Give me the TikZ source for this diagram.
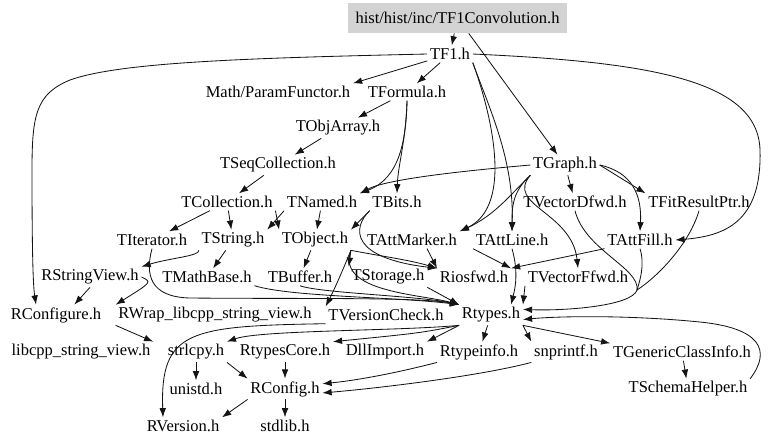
\documentclass[tikz,border=0pt]{standalone}
\usepackage{fontspec}
\setmainfont{Liberation Serif}
\usetikzlibrary{arrows.meta}
\definecolor{rootfill}{RGB}{211, 211, 211}
\definecolor{edgecol}{RGB}{20, 20, 20}

\begin{document}
\begin{tikzpicture}[
  x=0.6pt, y=-0.6pt,
  hdr/.style={inner sep=1.5pt, font=\fontsize{9.9}{11}\selectfont},
  root/.style={hdr, fill=rootfill, minimum width=131.4pt, minimum height=18pt},
  arrow/.style={-{Latex[length=5.5pt,width=4pt]}, line width=0.5pt, edgecol},
  plain/.style={line width=0.5pt, edgecol}
]
  \useasboundingbox (0,0) rectangle (768,445);

  % Nodes
  \node[root] (conv) at (457.5,18) {hist/hist/inc/TF1Convolution.h};
  \node[hdr] (tf1) at (450,54) {TF1.h};
  \node[hdr] (param) at (278,92) {Math/ParamFunctor.h};
  \node[hdr] (tformula) at (407,92) {TFormula.h};
  \node[hdr] (tobjarray) at (338,128) {TObjArray.h};
  \node[hdr] (tseqcoll) at (278,165) {TSeqCollection.h};
  \node[hdr] (tgraph) at (565,165) {TGraph.h};
  \node[hdr] (tcollection) at (227,202) {TCollection.h};
  \node[hdr] (tnamed) at (322,202) {TNamed.h};
  \node[hdr] (tbits) at (397,202) {TBits.h};
  \node[hdr] (tvecdfwd) at (575,202) {TVectorDfwd.h};
  \node[hdr] (tfitres) at (699,202) {TFitResultPtr.h};
  \node[hdr] (titerator) at (152,240) {TIterator.h};
  \node[hdr] (tstring) at (233,240) {TString.h};
  \node[hdr] (tobject) at (315,240) {TObject.h};
  \node[hdr] (tattmarker) at (412,240) {TAttMarker.h};
  \node[hdr] (tattline) at (512,240) {TAttLine.h};
  \node[hdr] (tattfill) at (640,240) {TAttFill.h};
  \node[hdr] (rstringview) at (90,277) {RStringView.h};
  \node[hdr] (tmathbase) at (207,277) {TMathBase.h};
  \node[hdr] (tbuffer) at (300,277) {TBuffer.h};
  \node[hdr] (tstorage) at (388,277) {TStorage.h};
  \node[hdr] (riosfwd) at (474,277) {Riosfwd.h};
  \node[hdr] (tvecffwd) at (578,277) {TVectorFfwd.h};
  \node[hdr] (rconfigure) at (56,315) {RConfigure.h};
  \node[hdr] (rwrap) at (215,315) {RWrap\_libcpp\_string\_view.h};
  \node[hdr] (tversion) at (386,315) {TVersionCheck.h};
  \node[hdr] (rtypes) at (491,315) {Rtypes.h};
  \node[hdr] (libcpp) at (81,352) {libcpp\_string\_view.h};
  \node[hdr] (strlcpy) at (196,352) {strlcpy.h};
  \node[hdr] (rtypescore) at (285,352) {RtypesCore.h};
  \node[hdr] (dllimport) at (385,352) {DllImport.h};
  \node[hdr] (rtypeinfo) at (479,352) {Rtypeinfo.h};
  \node[hdr] (snprintf) at (566,352) {snprintf.h};
  \node[hdr] (tgenclass) at (682,352) {TGenericClassInfo.h};
  \node[hdr] (unistd) at (196,389) {unistd.h};
  \node[hdr] (rconfig) at (285,389) {RConfig.h};
  \node[hdr] (tschema) at (688,389) {TSchemaHelper.h};
  \node[hdr] (rversion) at (183,426) {RVersion.h};
  \node[hdr] (stdlib) at (285,426) {stdlib.h};
  \coordinate (merge) at (637,290);

  % Paths
  \draw[arrow] (conv) -- (tf1);
  \draw[arrow] (conv) -- (tgraph);
  \draw[arrow] (tf1.west) .. controls (250,58) and (120,62) .. (70,80) .. controls (36,94) and (32,115) .. (32,170) .. controls (32,250) and (33,285) .. ([xshift=-12pt]rconfigure.north);
  \draw[arrow] (tf1) -- (param.north east);
  \draw[arrow] (tf1) -- (tformula);
  \draw[arrow] (tf1.south east) .. controls (490,110) and (514,160) .. (tattline.north);
  \draw[arrow] (tf1.south east) .. controls (490,110) and (515,205) .. (tattmarker.north east);
  \draw[arrow] (tf1.east) .. controls (650,62) and (758,80) .. (760,150) .. controls (762,222) and (725,236) .. (tattfill.east);
  \draw[arrow] (tformula) -- (tobjarray);
  \draw[arrow] (tformula.south) .. controls (406,140) and (398,165) .. (tbits.north);
  \draw[arrow] (tformula.south) .. controls (406,140) and (400,178) .. (tnamed.north east);
  \draw[arrow] (tobjarray) -- (tseqcoll);
  \draw[arrow] (tseqcoll) -- (tcollection);
  \draw[arrow] (tcollection) -- (titerator);
  \draw[arrow] (tcollection) -- (tstring);
  \draw[arrow] (tcollection.south east) -- (tobject.north west);
  \draw[arrow] (tnamed.south west) -- (tstring.north east);
  \draw[arrow] (tnamed) -- (tobject);
  \draw[arrow] (tbits.south west) -- (tobject.north east);
  \draw[arrow] (tbits.south west) .. controls (352,228) and (350,258) .. (riosfwd.north west);
  \draw[arrow] (tgraph.west) .. controls (450,172) and (385,180) .. (tnamed.north east);
  \draw[arrow] (tgraph.south west) .. controls (510,195) and (495,215) .. (tattmarker.north east);
  \draw[arrow] (tgraph.south west) .. controls (512,192) and (512,208) .. (tattline.north);
  \draw[arrow] (tgraph) -- (tvecdfwd);
  \draw[arrow] (tgraph.south west) .. controls (505,205) and (572,212) .. (tvecffwd.north);
  \draw[arrow] (tgraph.east) -- (tfitres.north west);
  \draw[arrow] (tgraph.east) .. controls (632,172) and (642,195) .. (tattfill.north);
  \draw[plain] (tvecdfwd.south) .. controls (585,250) and (640,268) .. (merge);
  \draw[plain] (tfitres.south) .. controls (690,242) and (660,275) .. (merge);
  \draw[plain] (tattfill.south) .. controls (645,265) and (640,280) .. (merge);
  \draw[arrow] (merge) .. controls (632,306) and (565,311) .. (rtypes.10);
  \draw[arrow] (tattfill.south west) -- (riosfwd.north east);
  \draw[arrow] (tattline.south west) -- (riosfwd.north east);
  \draw[arrow] (tattline.south) .. controls (518,270) and (516,285) .. ([xshift=12pt]rtypes.north);
  \draw[arrow] (tvecffwd.south west) -- (rtypes.north east);
  \draw[arrow] (tattmarker.-30) -- (riosfwd.north west);
  \draw[arrow] (tobject.south east) .. controls (380,256) and (410,260) .. (riosfwd.north west);
  \draw[arrow] (tobject.south east) -- (tstorage.north west);
  \draw[arrow] (tobject) -- (tbuffer);
  \draw[arrow] (tobject.south east) .. controls (338,282) and (330,298) .. (tversion.north west);
  \draw[arrow] (tobject.south east) .. controls (336,292) and (420,294) .. (rtypes.north west);
  \draw[arrow] (tstring.south west) .. controls (200,256) and (170,258) .. (rstringview.north east);
  \draw[arrow] (tstring) -- (tmathbase);
  \draw[arrow] (titerator.south) .. controls (145,275) and (150,297) .. (190,298) .. controls (300,299) and (420,297) .. (rtypes.north west);
  \draw[arrow] (tmathbase.south east) .. controls (290,297) and (400,297) .. (rtypes.north west);
  \draw[arrow] (tbuffer.south) .. controls (320,293) and (420,296) .. (rtypes.north west);
  \draw[arrow] (tstorage.south east) -- (rtypes.north west);
  \draw[arrow] (rstringview.south) -- ([xshift=11pt]rconfigure.north);
  \draw[arrow] (rstringview.east) .. controls (152,282) .. (rwrap.north west);
  \draw[arrow] (rwrap.south west) -- (libcpp.north east);
  \draw[arrow] (tversion.south west) .. controls (190,326) and (160,330) .. ([xshift=-12pt]rversion.north);
  \draw[arrow] (rtypes.south west) .. controls (400,331) and (260,330) .. (strlcpy.north east);
  \draw[arrow] (rtypes.south west) .. controls (420,333) .. (rtypescore.north east);
  \draw[arrow] (rtypes.south west) -- (dllimport.north east);
  \draw[arrow] (rtypes) -- (rtypeinfo);
  \draw[arrow] (rtypes.south east) -- (snprintf.north west);
  \draw[arrow] (rtypes.south east) -- (tgenclass.north west);
  \draw[arrow] (tgenclass) -- (tschema);
  \draw[arrow] (tschema.north east) .. controls (772,350) and (760,328) .. (700,322) .. controls (630,315) and (560,316) .. (rtypes.-8);
  \draw[arrow] (strlcpy) -- (unistd);
  \draw[arrow] (strlcpy.south east) -- (rconfig.north west);
  \draw[arrow] (rtypescore) -- (rconfig);
  \draw[arrow] (rtypeinfo.south west) .. controls (400,372) and (360,380) .. (rconfig.8);
  \draw[arrow] (snprintf.south west) .. controls (480,376) and (380,388) .. (rconfig.-6);
  \draw[arrow] (rconfig.south west) -- (rversion.north east);
  \draw[arrow] (rconfig) -- (stdlib);
\end{tikzpicture}
\end{document}
